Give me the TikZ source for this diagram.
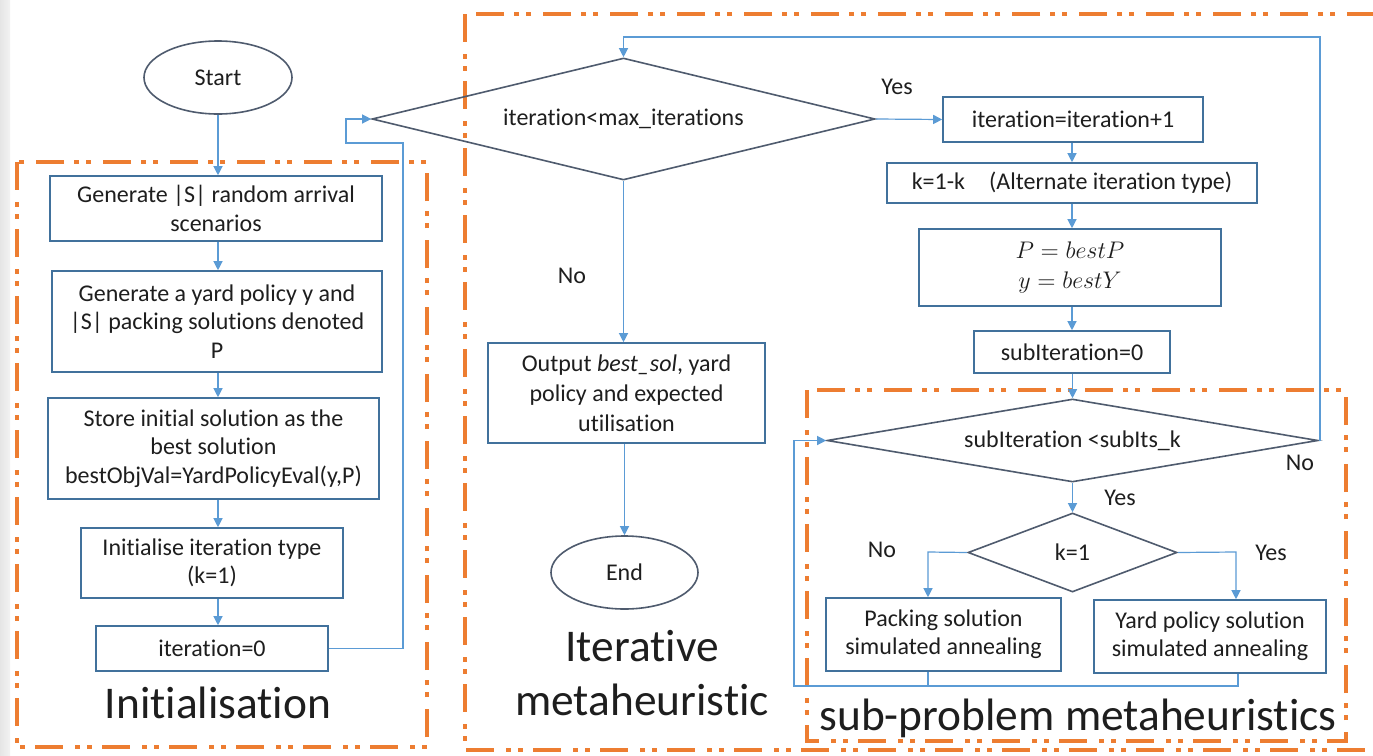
\documentclass[tikz,border=0pt]{standalone}
\usepackage{fontspec}
\setmainfont[Ligatures=NoCommon]{Carlito}
\usetikzlibrary{shapes.geometric,arrows.meta}
\definecolor{boxblue}{HTML}{41719C}
\definecolor{slate}{HTML}{4F5B6E}
\definecolor{linkblue}{HTML}{5B9BD5}
\definecolor{orng}{HTML}{ED7D31}
\definecolor{txt}{HTML}{1E1E1E}
\tikzset{
  pbox/.style={draw=boxblue,line width=0.8pt,rectangle,inner sep=0pt,align=center,text=txt,font=\fontsize{12}{14.2}\selectfont},
  dbox/.style={draw=slate,line width=0.8pt,diamond,shape aspect=5,inner sep=0pt,align=center,text=txt,font=\fontsize{12}{14}\selectfont},
  ebox/.style={draw=slate,line width=0.8pt,ellipse,inner sep=0pt,align=center,text=txt,font=\fontsize{12}{14}\selectfont},
  link/.style={draw=linkblue,line width=0.6pt},
  arr/.style={link,-{Triangle[length=4.5pt,width=4.5pt]}},
  lbl/.style={text=txt,font=\fontsize{12}{14}\selectfont,inner sep=0pt},
  big/.style={text=txt,font=\fontsize{22.7}{27}\selectfont,inner sep=0pt,align=center},
  zone/.style={draw=orng,line width=2.4pt,line cap=butt,dash pattern=on 14pt off 6pt on 2.5pt off 3.5pt on 2.5pt off 5pt}
}
\begin{document}
\begin{tikzpicture}[x=0.5pt,y=-0.5pt]
\clip (0,0) rectangle (1373,756);
\fill[white] (0,0) rectangle (1373,756);
\fill[left color=gray!20,right color=gray!10] (0,0) rectangle (10,756);

% zones
\draw[zone] (17,162) rectangle (427,747);
\draw[zone] (465,14) rectangle (1390,750);
\draw[zone] (807,390) rectangle (1346,741);

% initialisation column
\node[ebox,minimum width=74pt,minimum height=36.5pt] (start) at (218,77.5) {Start};
\node[pbox,minimum width=166pt,minimum height=32.5pt] (b1) at (216,208.5) {Generate |S| random arrival\\scenarios};
\node[pbox,minimum width=165pt,minimum height=50.5pt] (b2) at (217,321.5) {Generate a yard policy y and\\|S| packing solutions denoted\\P};
\node[pbox,minimum width=165.5pt,minimum height=50.5pt] (b3) at (213.5,448.5) {Store initial solution as the\\best solution\\bestObjVal=YardPolicyEval(y,P)};
\node[pbox,minimum width=131pt,minimum height=35pt] (b4) at (212,563) {Initialise iteration type\\(k=1)};
\node[pbox,minimum width=116pt,minimum height=22.5pt] (b5) at (212,648.5) {iteration=0};
\node[big] (tinit) at (218,703) {Initialisation};

% middle column
\node[dbox,minimum width=251.5pt,minimum height=61pt] (d1) at (623.5,119) {iteration<max\_iterations};
\node[pbox,minimum width=138.5pt,minimum height=50pt,font=\fontsize{12}{15}\selectfont] (out) at (626.5,393) {Output \textit{best\_sol}, yard\\policy and expected\\utilisation};
\node[ebox,minimum width=73.5pt,minimum height=36.5pt] (end) at (624.5,572.5) {End};
\node[big] (titer) at (642,673) {Iterative\\metaheuristic};

% right column
\node[pbox,minimum width=130pt,minimum height=22.5pt] (inc) at (1073,119.5) {iteration=iteration+1};
\node[pbox,minimum width=185pt,minimum height=20pt] (kb) at (1072,183) {k=1-k\quad (Alternate iteration type)};
\node[pbox,minimum width=151pt,minimum height=38.5pt,font=\fontsize{11.5}{15}\selectfont] (pb) at (1070,267.5) {$P = bestP$\\$y = bestY$};
\node[pbox,minimum width=98pt,minimum height=21pt] (s0) at (1072,352) {subIteration=0};
\node[dbox,minimum width=245.5pt,minimum height=41.5pt,shape aspect=6] (d2) at (1072.5,440.5) {subIteration <subIts\_k};
\node[dbox,minimum width=104.5pt,minimum height=39.5pt,shape aspect=2.5] (d3) at (1072.5,552.5) {k=1};
\node[pbox,minimum width=117.5pt,minimum height=36.5pt] (pack) at (943.5,634.5) {Packing solution\\simulated annealing};
\node[pbox,minimum width=116pt,minimum height=36.5pt] (yard) at (1210,636.5) {Yard policy solution\\simulated annealing};
\node[big] (tsub) at (1078,718) {sub-problem metaheuristics};

% labels
\node[lbl] (lyes1) at (897,87) {Yes};
\node[lbl] (lno1) at (572,276) {No};
\node[lbl] (lno2) at (1300,463) {No};
\node[lbl] (lyes2) at (1120,498) {Yes};
\node[lbl] (lno3) at (882,550) {No};
\node[lbl] (lyes3) at (1271,553) {Yes};

% coordinates
\coordinate (c1) at (403,650);
\coordinate (c2) at (403,143);
\coordinate (c3) at (346,143);
\coordinate (c4) at (346,119);
\coordinate (c5) at (1320,37);
\coordinate (c6) at (928,552);
\coordinate (c7) at (1236,552);
\coordinate (c8) at (928,686);
\coordinate (c9) at (1238,686);
\coordinate (c10) at (794,686);
\coordinate (c11) at (794,440.5);

% connectors init
\draw[arr] (start.south) -- (start.south |- b1.north);
\draw[arr] (b1.south -| start) -- (b2.north -| start);
\draw[arr] (b2.south -| start) -- (b3.north -| start);
\draw[arr] (b3.south -| start) -- (b4.north -| start);
\draw[arr] (b4.south -| start) -- (b5.north -| start);
\draw[arr] (b5.east) -- (b5.east -| c1) -- (c2) -- (c3) -- (c4) -- (d1.west);

% middle
\draw[arr] (d1.east) -- (inc.west);
\draw[arr] (d1.south) -- (d1.south |- out.north);
\draw[arr] (out.south -| end) -- (end.north);

% right
\draw[arr] (inc.south -| s0) -- (kb.north -| s0);
\draw[arr] (kb.south -| s0) -- (pb.north -| s0);
\draw[arr] (pb.south -| s0) -- (s0.north);
\draw[arr] (s0.south -| d2) -- (d2.north);
\draw[arr] (d2.east) -- (d2.east -| c5) -- (c5) -- (c5 -| d1) -- (d1.north);
\draw[arr] (d2.south) -- (d3.north);
\draw[arr] (d3.west) -- (c6) -- (c6 |- pack.north);
\draw[arr] (d3.east) -- (c7) -- (c7 |- yard.north);
\draw[link] (c8 |- pack.south) -- (c8);
\draw[arr] (c9 |- yard.south) -- (c9) -- (c10) -- (c11) -- (d2.west);
\end{tikzpicture}
\end{document}
